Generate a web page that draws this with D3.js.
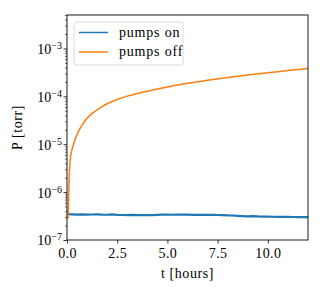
<!DOCTYPE html>
<html>
<head>
<meta charset="utf-8">
<script src="https://cdn.jsdelivr.net/npm/d3@7"></script>
<style>
  body { margin: 0; background: #fff; }
  svg text { font-family: "Liberation Serif", "DejaVu Serif", serif; fill: #000; }
</style>
</head>
<body>
<svg id="chart" width="323" height="292"></svg>
<script>
// pumps off: time (hours) and pressure (torr)
const offTimes = [0.05, 0.06, 0.07, 0.08, 0.1, 0.12, 0.15, 0.2, 0.25, 0.33, 0.4, 0.5, 0.75, 1.0,
  1.25, 1.5, 1.75, 2.0, 2.5, 3.0, 3.5, 4.0, 5.0, 6.0, 7.0, 8.0, 9.0, 10.0, 11.0, 12.0];
const offValues = [2.8e-7, 3.5e-7, 5e-7, 8e-7, 1.6e-6, 2.6e-6, 4.2e-6, 6.3e-6, 7.8e-6, 1.0e-5, 1.25e-5, 1.6e-5,
  2.5e-5, 3.5e-5, 4.4e-5, 5.2e-5, 6.1e-5, 7.0e-5, 8.6e-5, 1.01e-4, 1.15e-4, 1.28e-4, 1.57e-4,
  1.87e-4, 2.17e-4, 2.48e-4, 2.8e-4, 3.12e-4, 3.45e-4, 3.8e-4];

// pumps on: roughly flat, slightly noisy
const onTimes = [0.03, 0.25, 0.5, 0.75, 1.0, 1.25, 1.5, 1.75, 2.0, 2.25, 2.5, 2.75, 3.0, 3.25, 3.5, 3.75,
  4.0, 4.25, 4.5, 4.75, 5.0, 5.25, 5.5, 5.75, 6.0, 6.25, 6.5, 6.75, 7.0, 7.25, 7.5, 7.75, 8.0, 8.25,
  8.5, 8.75, 9.0, 9.25, 9.5, 9.75, 10.0, 10.25, 10.5, 10.75, 11.0, 11.25, 11.5, 11.75, 12.0];
const onValues = [3.45e-7, 3.42e-7, 3.40e-7, 3.43e-7, 3.38e-7, 3.41e-7, 3.44e-7, 3.39e-7, 3.37e-7, 3.42e-7,
  3.36e-7, 3.33e-7, 3.30e-7, 3.34e-7, 3.32e-7, 3.31e-7, 3.33e-7, 3.30e-7, 3.35e-7, 3.38e-7, 3.40e-7,
  3.37e-7, 3.41e-7, 3.39e-7, 3.38e-7, 3.36e-7, 3.37e-7, 3.35e-7, 3.36e-7, 3.34e-7, 3.33e-7, 3.30e-7,
  3.28e-7, 3.25e-7, 3.20e-7, 3.16e-7, 3.12e-7, 3.14e-7, 3.10e-7, 3.08e-7, 3.07e-7, 3.06e-7, 3.05e-7,
  3.04e-7, 3.03e-7, 3.02e-7, 3.01e-7, 3.00e-7, 2.99e-7];

const xTicks = [0, 2.5, 5, 7.5, 10];
const yTicks = [1e-7, 1e-6, 1e-5, 1e-4, 1e-3];
const seriesNames = ['pumps on', 'pumps off'];
const seriesColors = ['#1f77b4', '#ff7f0e'];

const svg = d3.select('#chart');
const margin = { top: 15, right: 15, bottom: 52, left: 67 };
const width = 323, height = 292;
const fontSize = 14;

const x = d3.scaleLinear().domain([0, 12]).range([margin.left, width - margin.right]);
const y = d3.scaleLog().domain([1e-7, 5e-3]).range([height - margin.bottom, margin.top]);

// x axis
const xAxis = svg.append('g')
  .attr('transform', `translate(0,${height - margin.bottom})`)
  .call(d3.axisBottom(x).tickValues(xTicks).tickFormat(d3.format('.1f')).tickSize(3.5).tickSizeOuter(0));
xAxis.select('.domain').remove();
xAxis.selectAll('line').attr('stroke', '#000').attr('stroke-width', 0.8);
xAxis.selectAll('text').attr('font-size', fontSize).attr('y', 7).attr('dy', '0.8em')
  .style('font-family', '"Liberation Serif", serif').style('letter-spacing', '0.4px');

// y axis minor ticks
const minor = [];
for (let e = -7; e <= -3; e++) {
  for (let m = 2; m <= 9; m++) {
    const v = m * Math.pow(10, e);
    if (v <= 5e-3) minor.push(v);
  }
}
const yMinor = svg.append('g')
  .attr('transform', `translate(${margin.left},0)`)
  .call(d3.axisLeft(y).tickValues(minor).tickFormat('').tickSize(2).tickSizeOuter(0));
yMinor.select('.domain').remove();
yMinor.selectAll('line').attr('stroke', '#000').attr('stroke-width', 0.6);

const yAxis = svg.append('g')
  .attr('transform', `translate(${margin.left},0)`)
  .call(d3.axisLeft(y).tickValues(yTicks).tickFormat('').tickSize(3.5).tickSizeOuter(0));
yAxis.select('.domain').remove();
yAxis.selectAll('line').attr('stroke', '#000').attr('stroke-width', 0.8);

// tick labels as 10^exp
yAxis.selectAll('.tick').each(function (d) {
  const exp = Math.round(Math.log10(d));
  const t = d3.select(this).append('text')
    .attr('x', -5).attr('dy', '0.35em').attr('text-anchor', 'end')
    .attr('font-size', fontSize);
  t.append('tspan').text('10');
  t.append('tspan').attr('dy', '-0.5em').attr('font-size', 10)
    .text(String(exp).replace('-', '\u2212'));
});

svg.append('clipPath').attr('id', 'clip').append('rect')
  .attr('x', margin.left).attr('y', margin.top)
  .attr('width', width - margin.left - margin.right)
  .attr('height', height - margin.top - margin.bottom);

const line = d3.line().x((d) => x(d[0])).y((d) => y(d[1]));

const plot = svg.append('g').attr('clip-path', 'url(#clip)');
plot.append('path')
  .datum(onTimes.map((t, i) => [t, onValues[i]]))
  .attr('fill', 'none').attr('stroke', seriesColors[0]).attr('stroke-width', 2.2)
  .attr('stroke-linejoin', 'round')
  .attr('d', line);
plot.append('path')
  .datum(offTimes.map((t, i) => [t, offValues[i]]))
  .attr('fill', 'none').attr('stroke', seriesColors[1]).attr('stroke-width', 1.5)
  .attr('stroke-linejoin', 'round')
  .attr('d', d3.line().curve(d3.curveMonotoneX).x((d) => x(d[0])).y((d) => y(d[1])));

// frame
svg.append('rect')
  .attr('x', margin.left).attr('y', margin.top)
  .attr('width', width - margin.left - margin.right)
  .attr('height', height - margin.top - margin.bottom)
  .attr('fill', 'none').attr('stroke', '#000').attr('stroke-width', 0.9);

// legend
const lg = svg.append('g');
lg.append('rect')
  .attr('x', 74).attr('y', 22).attr('width', 109).attr('height', 43)
  .attr('rx', 2.5).attr('fill', '#fff').attr('fill-opacity', 0.8)
  .attr('stroke', '#d6d6d6').attr('stroke-width', 0.9);
seriesNames.forEach((name, i) => {
  const ly = 32.5 + i * 19.5;
  lg.append('line').attr('x1', 79).attr('x2', 108).attr('y1', ly).attr('y2', ly)
    .attr('stroke', seriesColors[i]).attr('stroke-width', 1.5);
  lg.append('text').attr('x', 119).attr('y', ly).attr('dy', '0.3em')
    .attr('font-size', fontSize).style('letter-spacing', '0.8px').text(name);
});

// axis labels
svg.append('text')
  .attr('x', (margin.left + width - margin.right) / 2).attr('y', 278)
  .attr('text-anchor', 'middle').attr('font-size', fontSize)
  .style('letter-spacing', '0.6px').text('t [hours]');
svg.append('text')
  .attr('transform', `translate(22,${(margin.top + height - margin.bottom) / 2}) rotate(-90)`)
  .attr('text-anchor', 'middle').attr('font-size', fontSize)
  .style('letter-spacing', '0.6px').text('P [torr]');
</script>
</body>
</html>
